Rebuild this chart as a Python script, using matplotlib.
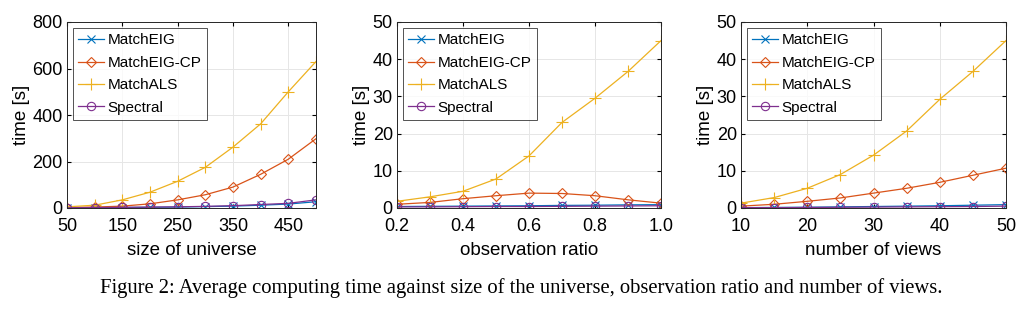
import matplotlib
matplotlib.use("Agg")
import matplotlib.pyplot as plt
import numpy as np

# panel 1: size of universe
universe = [50, 100, 150, 200, 250, 300, 350, 400, 450, 500]
u_eig = [0.5, 1, 2, 3, 4, 6, 8, 12, 17, 27]
u_eigcp = [2, 4, 8, 18, 35, 57, 90, 145, 210, 298]
u_als = [5, 12, 35, 68, 115, 175, 262, 362, 500, 630]
u_spectral = [1, 2, 3, 4, 5, 7, 10, 15, 20, 35]

# panel 2: observation ratio
ratio = [0.2, 0.3, 0.4, 0.5, 0.6, 0.7, 0.8, 0.9, 1.0]
r_eig = [0.4, 0.45, 0.5, 0.55, 0.6, 0.7, 0.75, 0.85, 0.9]
r_eigcp = [1.0, 1.5, 2.5, 3.3, 4.0, 3.9, 3.3, 2.2, 1.3]
r_als = [1.8, 3.0, 4.5, 7.8, 14.0, 23.0, 29.5, 36.7, 45.0]
r_spectral = [0.3, 0.3, 0.35, 0.4, 0.4, 0.45, 0.5, 0.55, 0.6]

# panel 3: number of views
views = [10, 15, 20, 25, 30, 35, 40, 45, 50]
v_eig = [0.1, 0.15, 0.2, 0.3, 0.4, 0.5, 0.6, 0.75, 0.9]
v_eigcp = [0.5, 1.0, 1.8, 2.7, 4.0, 5.3, 6.9, 8.8, 10.7]
v_als = [1.3, 2.8, 5.3, 9.0, 14.2, 20.7, 29.2, 36.7, 45.0]
v_spectral = [0.1, 0.1, 0.15, 0.2, 0.25, 0.3, 0.35, 0.4, 0.5]

labels = ["MatchEIG", "MatchEIG-CP", "MatchALS", "Spectral"]
colors = ["#0072BD", "#D95319", "#EDB120", "#7E2F8E"]
markers = ["x", "D", "+", "o"]
msizes = [6, 5, 8, 6]

plt.rcParams["font.family"] = ["Liberation Sans", "DejaVu Sans"]

fig = plt.figure(figsize=(10.35, 3.11), dpi=100)
W, H = 1035, 311
boxes = [(67, 316), (397, 661), (741, 1006)]
top, bottom = 22, 208

panels = [
    (universe, [u_eig, u_eigcp, u_als, u_spectral], "size of universe",
     (50, 500), [50, 150, 250, 350, 450], ["50", "150", "250", "350", "450"],
     (0, 800), [0, 200, 400, 600, 800]),
    (ratio, [r_eig, r_eigcp, r_als, r_spectral], "observation ratio",
     (0.2, 1.0), [0.2, 0.4, 0.6, 0.8, 1.0], ["0.2", "0.4", "0.6", "0.8", "1.0"],
     (0, 50), [0, 10, 20, 30, 40, 50]),
    (views, [v_eig, v_eigcp, v_als, v_spectral], "number of views",
     (10, 50), [10, 20, 30, 40, 50], ["10", "20", "30", "40", "50"],
     (0, 50), [0, 10, 20, 30, 40, 50]),
]

for (x0, x1), (x, series, xlabel, xlim, xt, xtl, ylim, yt) in zip(boxes, panels):
    ax = fig.add_axes([x0 / W, 1 - bottom / H, (x1 - x0) / W, (bottom - top) / H])
    for y, lab, c, m, ms in zip(series, labels, colors, markers, msizes):
        ax.plot(x, y, color=c, marker=m, label=lab, linewidth=0.9,
                markersize=ms, markerfacecolor="none", markeredgewidth=0.8)
    ax.set_xlim(*xlim)
    ax.set_ylim(*ylim)
    ax.set_xticks(xt)
    ax.set_xticklabels(xtl)
    ax.set_yticks(yt)
    ax.grid(True, color="#e6e6e6", linewidth=0.7)
    ax.set_axisbelow(True)
    ax.tick_params(direction="in", labelsize=13, length=3, top=True, right=True)
    ax.tick_params(axis="x", pad=7)
    ax.tick_params(axis="y", pad=3)
    for s in ax.spines.values():
        s.set_linewidth(0.7)
        s.set_color("#262626")
    ax.set_xlabel(xlabel, fontsize=13.5, labelpad=5)
    ax.set_ylabel("time [s]", fontsize=13.5, labelpad=2)
    leg = ax.legend(loc="upper left", fontsize=11, frameon=True, fancybox=False,
                    handlelength=1.7, handletextpad=0.2, borderpad=0.35,
                    labelspacing=0.55, borderaxespad=0.4)
    leg.get_frame().set_edgecolor("#262626")
    leg.get_frame().set_linewidth(0.7)

fig.text(100 / W, 1 - 288 / H,
         "Figure 2: Average computing time against size of the universe, observation ratio and number of views.",
         fontsize=14.9, family=["Liberation Serif", "DejaVu Serif"], va="center", ha="left")

fig.savefig("out.png", dpi=100)
